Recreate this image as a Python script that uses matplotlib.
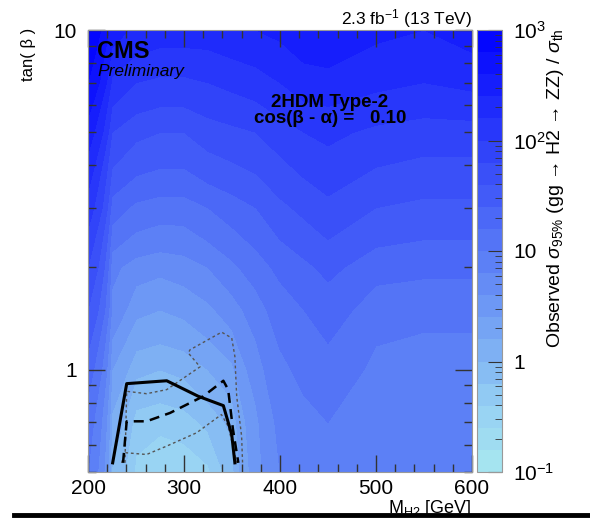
import numpy as np
import matplotlib
matplotlib.use("Agg")
import matplotlib.pyplot as plt
from matplotlib.colors import LinearSegmentedColormap, LogNorm
from matplotlib.ticker import FixedLocator, FixedFormatter, LogLocator, MultipleLocator, NullFormatter
from matplotlib.lines import Line2D

plt.rcParams['font.family'] = ['Liberation Sans', 'DejaVu Sans']
plt.rcParams['mathtext.fontset'] = 'custom'
plt.rcParams['mathtext.rm'] = 'Liberation Sans'
plt.rcParams['mathtext.it'] = 'Liberation Sans:italic'
plt.rcParams['mathtext.bf'] = 'Liberation Sans:bold'

# grid: log10(sigma_obs / sigma_th)
mass = [200, 225, 250, 275, 300, 325, 350, 375, 400, 425, 450, 500, 550, 600]
tanb = [0.5, 0.7, 1.0, 1.5, 2, 3, 5, 7, 10]
log_ratio_cols = {
    200: [1.0, 1.1, 1.3, 1.6, 1.8, 2.1, 2.5, 2.8, 2.99],
    225: [-0.02, 0.15, 0.4, 0.75, 0.85, 1.3, 1.8, 2.15, 2.5],
    250: [-0.45, -0.3, 0.05, 0.45, 0.7, 1.15, 1.65, 2.0, 2.35],
    275: [-0.55, -0.35, 0.0, 0.4, 0.65, 1.1, 1.6, 1.95, 2.3],
    300: [-0.55, -0.3, 0.05, 0.45, 0.7, 1.1, 1.6, 1.95, 2.3],
    325: [-0.45, -0.15, 0.2, 0.55, 0.8, 1.2, 1.7, 2.0, 2.3],
    350: [-0.1, 0.05, 0.35, 0.7, 0.95, 1.3, 1.75, 2.05, 2.35],
    375: [0.5, 0.55, 0.7, 0.9, 1.1, 1.4, 1.8, 2.1, 2.4],
    400: [0.8, 0.85, 0.95, 1.1, 1.25, 1.55, 1.9, 2.2, 2.45],
    425: [0.9, 0.95, 1.05, 1.2, 1.35, 1.65, 2.0, 2.3, 2.55],
    450: [0.95, 1.0, 1.12, 1.3, 1.45, 1.75, 2.05, 2.32, 2.58],
    500: [0.85, 0.88, 0.95, 1.08, 1.28, 1.6, 1.95, 2.25, 2.45],
    550: [0.85, 0.87, 0.92, 1.05, 1.25, 1.55, 1.9, 2.2, 2.4],
    600: [0.85, 0.87, 0.92, 1.05, 1.25, 1.55, 1.9, 2.25, 2.5],
}

# exclusion contours
obs_mass = [225.7, 240.3, 282, 315, 341, 349.7, 353]
obs_tanb = [0.532, 0.91, 0.928, 0.835, 0.784, 0.645, 0.532]
exp_mass = [236.5, 240.3, 261, 285.4, 320, 341, 346, 351, 356.6]
exp_tanb = [0.532, 0.705, 0.705, 0.746, 0.835, 0.928, 0.874, 0.667, 0.532]
up_mass = [238.5, 240.3, 261, 282, 316.7, 304.5, 306.3, 339.2, 349.7, 353, 354.9, 360, 361]
up_tanb = [0.532, 0.864, 0.85, 0.874, 1.02, 1.12, 1.145, 1.29, 1.24, 1.094, 0.835, 0.638, 0.532]
lo_mass = [235, 238.5, 261, 282, 313, 339, 346, 351, 355]
lo_tanb = [0.532, 0.570, 0.563, 0.596, 0.652, 0.738, 0.682, 0.596, 0.532]

M, T = np.meshgrid(mass, tanb)
Z = np.array([log_ratio_cols[m] for m in mass]).T
ratio = 10.0 ** Z

cmap = LinearSegmentedColormap.from_list("cmsblue", [
    (0.0, (168/255, 232/255, 240/255)),
    (0.15, (150/255, 208/255, 243/255)),
    (0.25, (130/255, 182/255, 243/255)),
    (0.5, (88/255, 122/255, 246/255)),
    (0.75, (45/255, 62/255, 249/255)),
    (1.0, (0/255, 0/255, 255/255)),
])

fig = plt.figure(figsize=(5.9, 5.18), dpi=100)
ax = fig.add_axes([88/590, 46/518, 384/590, 442/518])
cax = fig.add_axes([477/590, 46/518, 25/590, 442/518])

levels = np.logspace(-1, 3, 21)
cs = ax.contourf(M, T, ratio, levels=levels, norm=LogNorm(0.1, 1000), cmap=cmap)

ax.plot(up_mass, up_tanb, color='#555555', lw=1.0, ls=(0, (2, 2)))
ax.plot(lo_mass, lo_tanb, color='#555555', lw=1.0, ls=(0, (2, 2)))
ax.plot(exp_mass, exp_tanb, color='black', lw=1.8, ls=(0, (4, 2.5)))
ax.plot(obs_mass, obs_tanb, color='black', lw=2.2)

ax.set_xlim(200, 600)
ax.set_yscale('log')
ax.set_ylim(0.5, 10)
ax.xaxis.set_major_locator(MultipleLocator(100))
ax.xaxis.set_minor_locator(MultipleLocator(20))
ax.yaxis.set_major_locator(FixedLocator([1, 10]))
ax.yaxis.set_major_formatter(FixedFormatter(['1', '10']))
ax.yaxis.set_minor_locator(LogLocator(base=10, subs=np.arange(2, 10)))
ax.yaxis.set_minor_formatter(NullFormatter())
ax.tick_params(which='both', direction='in', top=True, right=True, labelsize=15, color='#333333')
ax.tick_params(which='major', length=12, width=1)
ax.tick_params(which='minor', length=6, width=1)
ax.tick_params(axis='x', pad=5)
ax.tick_params(axis='y', pad=8)
for s in ax.spines.values():
    s.set_color('#999999')

cb = fig.colorbar(cs, cax=cax)
cb.set_ticks([0.1, 1, 10, 100, 1000])
cb.set_ticklabels([r'$10^{-1}$', '1', '10', r'$10^{2}$', r'$10^{3}$'])
cax.yaxis.set_minor_locator(LogLocator(base=10, subs=np.arange(2, 10)))
cax.tick_params(which='both', direction='in', labelsize=15, pad=8, color='#333333')
cax.tick_params(which='major', length=10)
cax.tick_params(which='minor', length=5)
cb.outline.set_edgecolor('#999999')

fig.text(28/590, 1 - 28/518, 'tan( β )', rotation=90, ha='center', va='top', fontsize=12)
fig.text(472/590, 1 - 498/518, r'M$_{\mathrm{H2}}$ [GeV]', ha='right', va='top', fontsize=13)
fig.text(472/590, 1 - 24/518, r'2.3 fb$^{-1}$ (13 TeV)', ha='right', va='baseline', fontsize=12.5)
fig.text(555/590, 1 - 28/518,
         r'Observed $\sigma_{95\%}$ (gg → H2 → ZZ) / $\sigma_{\mathrm{th}}$',
         rotation=90, ha='center', va='top', fontsize=14)

ax.text(97/590, 1 - 58/518, 'CMS', transform=fig.transFigure, fontsize=17, fontweight='bold', va='baseline')
ax.text(97/590, 1 - 76/518, 'Preliminary', transform=fig.transFigure, fontsize=12.5, style='italic', va='baseline')
ax.text(330/590, 1 - 107/518, '2HDM Type-2', transform=fig.transFigure, fontsize=13.5,
        fontweight='bold', ha='center', va='baseline')
ax.text(330/590, 1 - 123/518, 'cos(β - α) =   0.10', transform=fig.transFigure,
        fontsize=13.5, fontweight='bold', ha='center', va='baseline')

fig.add_artist(Line2D([14/590, 1], [3/518, 3/518], transform=fig.transFigure, color='black', lw=3.5, zorder=10))

fig.savefig('out.png', dpi=100)
